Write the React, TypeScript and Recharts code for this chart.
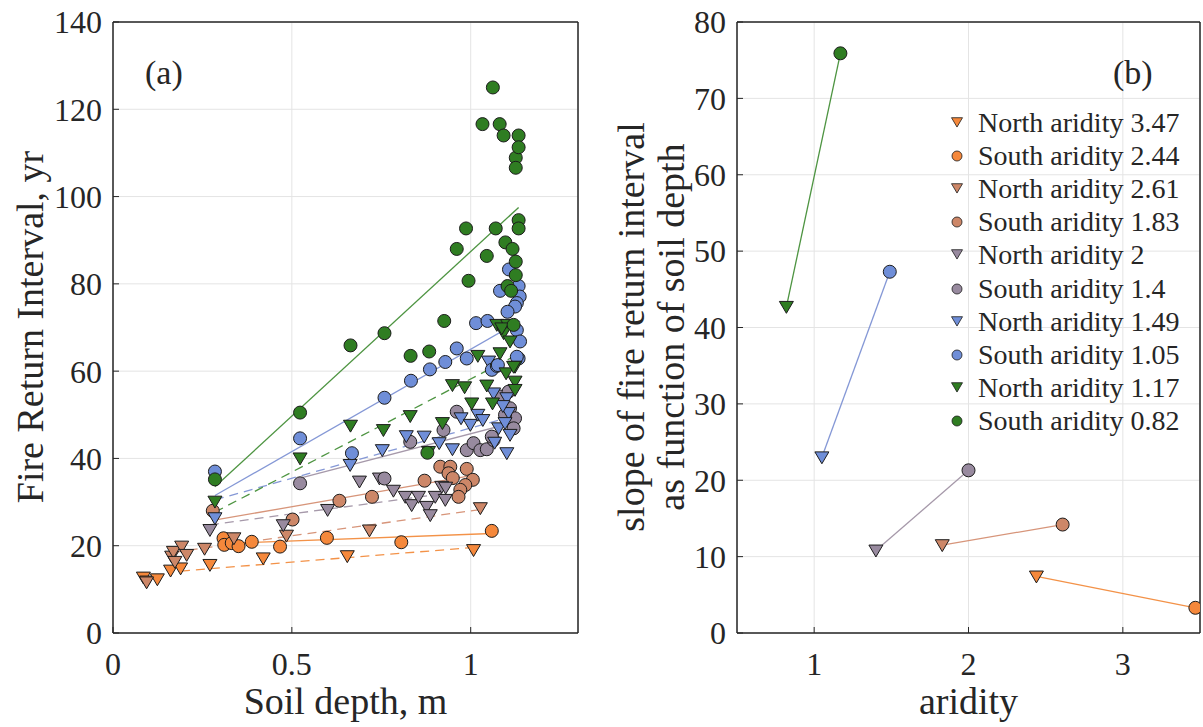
import React from 'react';
import {
  ScatterChart,
  Scatter,
  XAxis,
  YAxis,
  CartesianGrid,
  ReferenceLine,
  ReferenceArea,
  Legend,
} from 'recharts';

const FONT = '"Liberation Serif", "Times New Roman", serif';
const INK = '#262626';
const EDGE = '#1c1c1c';
const GRID = '#e4e4e4';

// marker fill / fit-line colour per aridity group
const ORANGE = '#F5883B';
const BROWN = '#CD8768';
const PURPLE = '#988A9F';
const BLUE = '#6F8ED8';
const GREEN = '#2F7D22';
const ORANGE_LINE = '#F39248';
const BROWN_LINE = '#D7957A';
const PURPLE_LINE = '#A699AA';
const BLUE_LINE = '#8598D6';
const GREEN_LINE = '#4D9441';

// ---- panel (a): fire return interval vs soil depth ----
const xTicksA = [0, 0.5, 1];
const yTicksA = [0, 20, 40, 60, 80, 100, 120, 140];

const north347 = [
  { x: 0.085, y: 12.7 }, { x: 0.094, y: 11.8 }, { x: 0.124, y: 12.3 }, { x: 0.161, y: 14.3 },
  { x: 0.189, y: 14.8 }, { x: 0.271, y: 15.6 }, { x: 0.42, y: 17.1 }, { x: 0.655, y: 17.6 },
  { x: 1.008, y: 19.0 },
];
const south244 = [
  { x: 0.309, y: 21.7 }, { x: 0.311, y: 20.2 }, { x: 0.332, y: 20.6 }, { x: 0.351, y: 19.9 },
  { x: 0.388, y: 20.9 }, { x: 0.467, y: 19.8 }, { x: 0.598, y: 21.8 }, { x: 0.806, y: 20.8 },
  { x: 1.059, y: 23.4 },
];
const north261 = [
  { x: 0.094, y: 11.6 }, { x: 0.164, y: 17.5 }, { x: 0.169, y: 18.6 }, { x: 0.173, y: 16.3 },
  { x: 0.192, y: 19.8 }, { x: 0.206, y: 17.9 }, { x: 0.256, y: 19.3 }, { x: 0.338, y: 21.7 },
  { x: 0.485, y: 22.3 }, { x: 0.717, y: 23.5 }, { x: 1.027, y: 28.6 },
];
const south183 = [
  { x: 0.279, y: 28.0 }, { x: 0.502, y: 26.0 }, { x: 0.633, y: 30.3 }, { x: 0.724, y: 31.2 },
  { x: 0.871, y: 34.9 }, { x: 0.915, y: 38.1 }, { x: 0.943, y: 38.1 }, { x: 0.938, y: 36.6 },
  { x: 0.989, y: 37.6 }, { x: 1.006, y: 35.1 }, { x: 0.985, y: 33.9 }, { x: 0.971, y: 32.8 },
  { x: 0.966, y: 31.2 }, { x: 0.95, y: 35.5 },
];
const north200 = [
  { x: 0.271, y: 23.6 }, { x: 0.476, y: 24.7 }, { x: 0.6, y: 28.2 }, { x: 0.689, y: 34.7 },
  { x: 0.745, y: 35.4 }, { x: 0.784, y: 32.6 }, { x: 0.817, y: 31.2 }, { x: 0.835, y: 29.3 },
  { x: 0.854, y: 31.2 }, { x: 0.877, y: 28.9 }, { x: 0.887, y: 27.0 }, { x: 0.901, y: 31.2 },
  { x: 0.919, y: 33.5 }, { x: 0.929, y: 30.5 }, { x: 0.93, y: 33.3 },
];
const south140 = [
  { x: 0.523, y: 34.3 }, { x: 0.759, y: 35.4 }, { x: 0.831, y: 43.8 }, { x: 0.924, y: 46.5 },
  { x: 0.961, y: 50.7 }, { x: 0.989, y: 41.9 }, { x: 1.008, y: 43.5 }, { x: 1.027, y: 41.9 },
  { x: 1.045, y: 42.1 }, { x: 1.064, y: 44.2 }, { x: 1.082, y: 54.2 }, { x: 1.11, y: 51.5 },
  { x: 1.124, y: 49.2 }, { x: 1.12, y: 46.9 }, { x: 1.096, y: 50.0 }, { x: 1.106, y: 55.3 },
  { x: 1.059, y: 45.0 },
];
const north149 = [
  { x: 0.285, y: 26.3 }, { x: 0.663, y: 38.5 }, { x: 0.753, y: 41.9 }, { x: 0.82, y: 45.1 },
  { x: 0.87, y: 45.0 }, { x: 0.912, y: 43.5 }, { x: 0.949, y: 42.1 }, { x: 0.973, y: 49.2 },
  { x: 0.999, y: 47.7 }, { x: 1.02, y: 50.0 }, { x: 1.034, y: 48.8 }, { x: 1.064, y: 54.9 },
  { x: 1.101, y: 53.8 }, { x: 1.106, y: 50.4 }, { x: 1.078, y: 46.9 }, { x: 1.101, y: 41.2 },
  { x: 1.11, y: 45.4 }, { x: 1.067, y: 43.6 }, { x: 1.096, y: 48.1 }, { x: 1.05, y: 62.2 },
  { x: 1.09, y: 52.0 },
];
const south105 = [
  { x: 0.285, y: 37.0 }, { x: 0.523, y: 44.6 }, { x: 0.668, y: 41.2 }, { x: 0.759, y: 53.9 },
  { x: 0.833, y: 57.8 }, { x: 0.886, y: 60.4 }, { x: 0.929, y: 62.1 }, { x: 0.961, y: 65.2 },
  { x: 0.989, y: 62.9 }, { x: 1.015, y: 71.0 }, { x: 1.047, y: 71.5 }, { x: 1.059, y: 60.3 },
  { x: 1.073, y: 61.2 }, { x: 1.082, y: 78.4 }, { x: 1.107, y: 83.3 }, { x: 1.134, y: 79.5 },
  { x: 1.137, y: 77.1 }, { x: 1.129, y: 75.6 }, { x: 1.124, y: 74.8 }, { x: 1.103, y: 73.6 },
  { x: 1.129, y: 69.4 }, { x: 1.138, y: 66.8 }, { x: 1.134, y: 62.9 }, { x: 1.129, y: 63.3 },
  { x: 1.076, y: 61.4 },
];
const north117 = [
  { x: 0.285, y: 30.1 }, { x: 0.523, y: 40.0 }, { x: 0.664, y: 47.5 }, { x: 0.756, y: 46.5 },
  { x: 0.831, y: 49.7 }, { x: 0.921, y: 48.1 }, { x: 0.949, y: 56.8 }, { x: 0.983, y: 56.3 },
  { x: 1.003, y: 52.6 }, { x: 1.045, y: 56.7 }, { x: 1.061, y: 52.6 }, { x: 1.02, y: 63.5 },
  { x: 1.082, y: 64.1 }, { x: 1.124, y: 61.0 }, { x: 1.124, y: 57.6 }, { x: 1.124, y: 55.7 },
  { x: 1.099, y: 59.5 }, { x: 1.073, y: 70.6 }, { x: 1.103, y: 70.6 }, { x: 1.092, y: 68.7 },
  { x: 1.11, y: 66.8 }, { x: 1.12, y: 61.0 }, { x: 1.087, y: 69.8 }, { x: 0.882, y: 41.5 },
];
const south082 = [
  { x: 0.285, y: 35.2 }, { x: 0.523, y: 50.5 }, { x: 0.664, y: 65.9 }, { x: 0.759, y: 68.7 },
  { x: 0.832, y: 63.5 }, { x: 0.884, y: 64.5 }, { x: 0.926, y: 71.5 }, { x: 0.879, y: 41.3 },
  { x: 0.961, y: 88.0 }, { x: 0.987, y: 92.7 }, { x: 0.994, y: 80.7 }, { x: 1.033, y: 116.6 },
  { x: 1.045, y: 86.4 }, { x: 1.062, y: 125.0 }, { x: 1.07, y: 92.7 }, { x: 1.081, y: 116.6 },
  { x: 1.092, y: 114.0 }, { x: 1.097, y: 89.5 }, { x: 1.103, y: 79.5 }, { x: 1.113, y: 78.4 },
  { x: 1.117, y: 88.0 }, { x: 1.12, y: 70.6 }, { x: 1.126, y: 85.1 }, { x: 1.126, y: 82.0 },
  { x: 1.126, y: 108.9 }, { x: 1.126, y: 106.6 }, { x: 1.134, y: 114.0 }, { x: 1.134, y: 111.3 },
  { x: 1.134, y: 94.6 }, { x: 1.134, y: 92.7 },
];

// fitted lines, end points
const fitN347 = [{ x: 0.19, y: 14.2 }, { x: 1.008, y: 19.6 }];
const fitS244 = [{ x: 0.3, y: 20.5 }, { x: 1.059, y: 22.8 }];
const fitN261 = [{ x: 0.17, y: 18.5 }, { x: 1.027, y: 28.3 }];
const fitS183 = [{ x: 0.279, y: 25.8 }, { x: 1.006, y: 36.1 }];
const fitN200 = [{ x: 0.271, y: 24.8 }, { x: 0.933, y: 32.0 }];
const fitS140 = [{ x: 0.523, y: 35.5 }, { x: 1.124, y: 48.3 }];
const fitN149 = [{ x: 0.285, y: 30.5 }, { x: 1.11, y: 49.5 }];
const fitS105 = [{ x: 0.285, y: 31.5 }, { x: 1.138, y: 71.5 }];
const fitN117 = [{ x: 0.285, y: 27.7 }, { x: 1.124, y: 63.5 }];
const fitS082 = [{ x: 0.285, y: 33.5 }, { x: 1.134, y: 97.5 }];

// ---- panel (b): slope vs aridity ----
const xTicksB = [1, 2, 3];
const yTicksB = [0, 10, 20, 30, 40, 50, 60, 70, 80];
// groups in order orange, brown, purple, blue, green
const northAridity = [2.44, 1.83, 1.4, 1.05, 0.82];
const northSlope = [7.4, 11.5, 10.8, 23.0, 42.7];
const southAridity = [3.47, 2.61, 2.0, 1.49, 1.17];
const southSlope = [3.3, 14.2, 21.3, 47.3, 75.9];
const northLabels = ['North aridity 3.47', 'North aridity 2.61', 'North aridity 2', 'North aridity 1.49', 'North aridity 1.17'];
const southLabels = ['South aridity 2.44', 'South aridity 1.83', 'South aridity 1.4', 'South aridity 1.05', 'South aridity 0.82'];

const groupFill = [ORANGE, BROWN, PURPLE, BLUE, GREEN];
const groupLine = [ORANGE_LINE, BROWN_LINE, PURPLE_LINE, BLUE_LINE, GREEN_LINE];

const seriesA = [
  { north: north347, south: south244, fitN: fitN347, fitS: fitS244 },
  { north: north261, south: south183, fitN: fitN261, fitS: fitS183 },
  { north: north200, south: south140, fitN: fitN200, fitS: fitS140 },
  { north: north149, south: south105, fitN: fitN149, fitS: fitS105 },
  { north: north117, south: south082, fitN: fitN117, fitS: fitS082 },
];

function triPoints(cx: number, cy: number, s: number) {
  return `${cx - s},${cy - s * 0.78} ${cx + s},${cy - s * 0.78} ${cx},${cy + s * 0.92}`;
}

const triangle = (fill: string) => (p: any) => {
  if (p.cx == null || p.cy == null) return <g />;
  return <polygon points={triPoints(p.cx, p.cy, 7)} fill={fill} stroke={EDGE} strokeWidth={1} />;
};

const circle = (fill: string) => (p: any) => {
  if (p.cx == null || p.cy == null) return <g />;
  return <circle cx={p.cx} cy={p.cy} r={6.5} fill={fill} stroke={EDGE} strokeWidth={1} />;
};

const pairShape = (fill: string) => (p: any) => {
  if (p.cx == null || p.cy == null) return <g />;
  if (p.payload && p.payload.kind === 'N') {
    return <polygon points={triPoints(p.cx, p.cy, 7)} fill={fill} stroke={EDGE} strokeWidth={1} />;
  }
  return <circle cx={p.cx} cy={p.cy} r={6.5} fill={fill} stroke={EDGE} strokeWidth={1} />;
};

const tickStyle = { fill: INK, fontSize: 32, fontFamily: FONT };
const axisStroke = { stroke: INK, strokeWidth: 1 };

function LegendBox() {
  const rows: { label: string; fill: string; kind: string }[] = [];
  groupFill.forEach((c, i) => {
    rows.push({ label: northLabels[i], fill: c, kind: 'N' });
    rows.push({ label: southLabels[i], fill: c, kind: 'S' });
  });
  return (
    <div style={{ fontFamily: FONT, fontSize: 28, color: INK }}>
      {rows.map((r) => (
        <div key={r.label} style={{ height: 33.2, display: 'flex', alignItems: 'center', whiteSpace: 'nowrap' }}>
          <svg width={14} height={14} style={{ marginRight: 14 }}>
            {r.kind === 'N' ? (
              <polygon points={triPoints(7, 6, 5.5)} fill={r.fill} stroke={EDGE} strokeWidth={0.8} />
            ) : (
              <circle cx={7} cy={7} r={5} fill={r.fill} stroke={EDGE} strokeWidth={0.8} />
            )}
          </svg>
          <span>{r.label}</span>
        </div>
      ))}
    </div>
  );
}

function PanelA() {
  return (
    <ScatterChart width={600} height={727} margin={{ top: 21, right: 21, bottom: 0, left: 0 }}>
      <CartesianGrid stroke={GRID} />
      <XAxis
        type="number"
        dataKey="x"
        domain={[0, 1.3]}
        ticks={xTicksA}
        height={94}
        tickSize={-6}
        tickMargin={25}
        tick={tickStyle}
        axisLine={axisStroke}
        tickLine={axisStroke}
        allowDataOverflow
        label={{ value: 'Soil depth, m', position: 'insideBottom', offset: 13, fill: INK, fontSize: 38, fontFamily: FONT }}
      />
      <XAxis xAxisId="top" orientation="top" type="number" domain={[0, 1.3]} ticks={xTicksA} height={1} tick={false} tickSize={-6} axisLine={axisStroke} tickLine={axisStroke} />
      <YAxis
        type="number"
        dataKey="y"
        domain={[0, 140]}
        ticks={yTicksA}
        width={113}
        tickSize={-6}
        tickMargin={17}
        tick={tickStyle}
        axisLine={axisStroke}
        tickLine={axisStroke}
        allowDataOverflow
      />
      <YAxis yAxisId="right" orientation="right" type="number" domain={[0, 140]} ticks={yTicksA} width={1} tick={false} tickSize={-6} axisLine={axisStroke} tickLine={axisStroke} />
      <ReferenceArea x1={0} x2={1.3} y1={0} y2={140} fill="none" stroke={INK} strokeWidth={1} ifOverflow="visible" />
      {seriesA.map((s, i) => [
        <Scatter key={`n${i}`} data={s.north} shape={triangle(groupFill[i])} isAnimationActive={false} />,
        <Scatter key={`s${i}`} data={s.south} shape={circle(groupFill[i])} isAnimationActive={false} />,
      ])}
      {seriesA.map((s, i) => [
        <ReferenceLine key={`fn${i}`} segment={s.fitN} stroke={groupLine[i]} strokeWidth={1.3} strokeDasharray="9 6" />,
        <ReferenceLine key={`fs${i}`} segment={s.fitS} stroke={groupLine[i]} strokeWidth={1.3} />,
      ])}
    </ScatterChart>
  );
}

function PanelB() {
  return (
    <ScatterChart width={603} height={727} margin={{ top: 21, right: 2, bottom: 0, left: 0 }}>
      <CartesianGrid stroke={GRID} />
      <XAxis
        type="number"
        dataKey="x"
        domain={[0.5, 3.5]}
        ticks={xTicksB}
        height={94}
        tickSize={-6}
        tickMargin={25}
        tick={tickStyle}
        axisLine={axisStroke}
        tickLine={axisStroke}
        allowDataOverflow
        label={{ value: 'aridity', position: 'insideBottom', offset: 13, fill: INK, fontSize: 38, fontFamily: FONT }}
      />
      <XAxis xAxisId="top" orientation="top" type="number" domain={[0.5, 3.5]} ticks={xTicksB} height={1} tick={false} tickSize={-6} axisLine={axisStroke} tickLine={axisStroke} />
      <YAxis
        type="number"
        dataKey="y"
        domain={[0, 80]}
        ticks={yTicksB}
        width={137}
        tickSize={-6}
        tickMargin={17}
        tick={tickStyle}
        axisLine={axisStroke}
        tickLine={axisStroke}
        allowDataOverflow
      />
      <YAxis yAxisId="right" orientation="right" type="number" domain={[0, 80]} ticks={yTicksB} width={1} tick={false} tickSize={-6} axisLine={axisStroke} tickLine={axisStroke} />
      <ReferenceArea x1={0.5} x2={3.5} y1={0} y2={80} fill="none" stroke={INK} strokeWidth={1} ifOverflow="visible" />
      {groupFill.map((c, i) => (
        <Scatter
          key={`p${i}`}
          data={[
            { x: northAridity[i], y: northSlope[i], kind: 'N' },
            { x: southAridity[i], y: southSlope[i], kind: 'S' },
          ]}
          line={{ stroke: groupLine[i], strokeWidth: 1.3 }}
          shape={pairShape(c)}
          isAnimationActive={false}
        />
      ))}
      <Legend
        layout="vertical"
        align="center"
        verticalAlign="middle"
        content={() => <LegendBox />}
        wrapperStyle={{ left: 350, top: 106, width: 253 }}
      />
    </ScatterChart>
  );
}

const labelBase: React.CSSProperties = {
  position: 'absolute',
  fontFamily: FONT,
  color: INK,
  whiteSpace: 'nowrap',
};

export default function App() {
  return (
    <div style={{ position: 'absolute', left: 0, top: 0, width: 1203, height: 727, background: '#fff', overflow: 'hidden' }}>
      <div style={{ position: 'absolute', left: 0, top: 0 }}>
        <PanelA />
      </div>
      <div style={{ position: 'absolute', left: 600, top: 0 }}>
        <PanelB />
      </div>
      <div style={{ ...labelBase, left: 30, top: 327, fontSize: 38, lineHeight: '38px', transform: 'translate(-50%, -50%) rotate(-90deg)' }}>
        Fire Return Interval, yr
      </div>
      <div style={{ ...labelBase, left: 651, top: 327, fontSize: 38, lineHeight: '40px', textAlign: 'center', transform: 'translate(-50%, -50%) rotate(-90deg)' }}>
        slope of fire return interval
        <br />
        as function of soil depth
      </div>
      <div style={{ ...labelBase, left: 145, top: 56, fontSize: 34, lineHeight: '34px' }}>(a)</div>
      <div style={{ ...labelBase, left: 1113, top: 56, fontSize: 34, lineHeight: '34px' }}>(b)</div>
    </div>
  );
}
